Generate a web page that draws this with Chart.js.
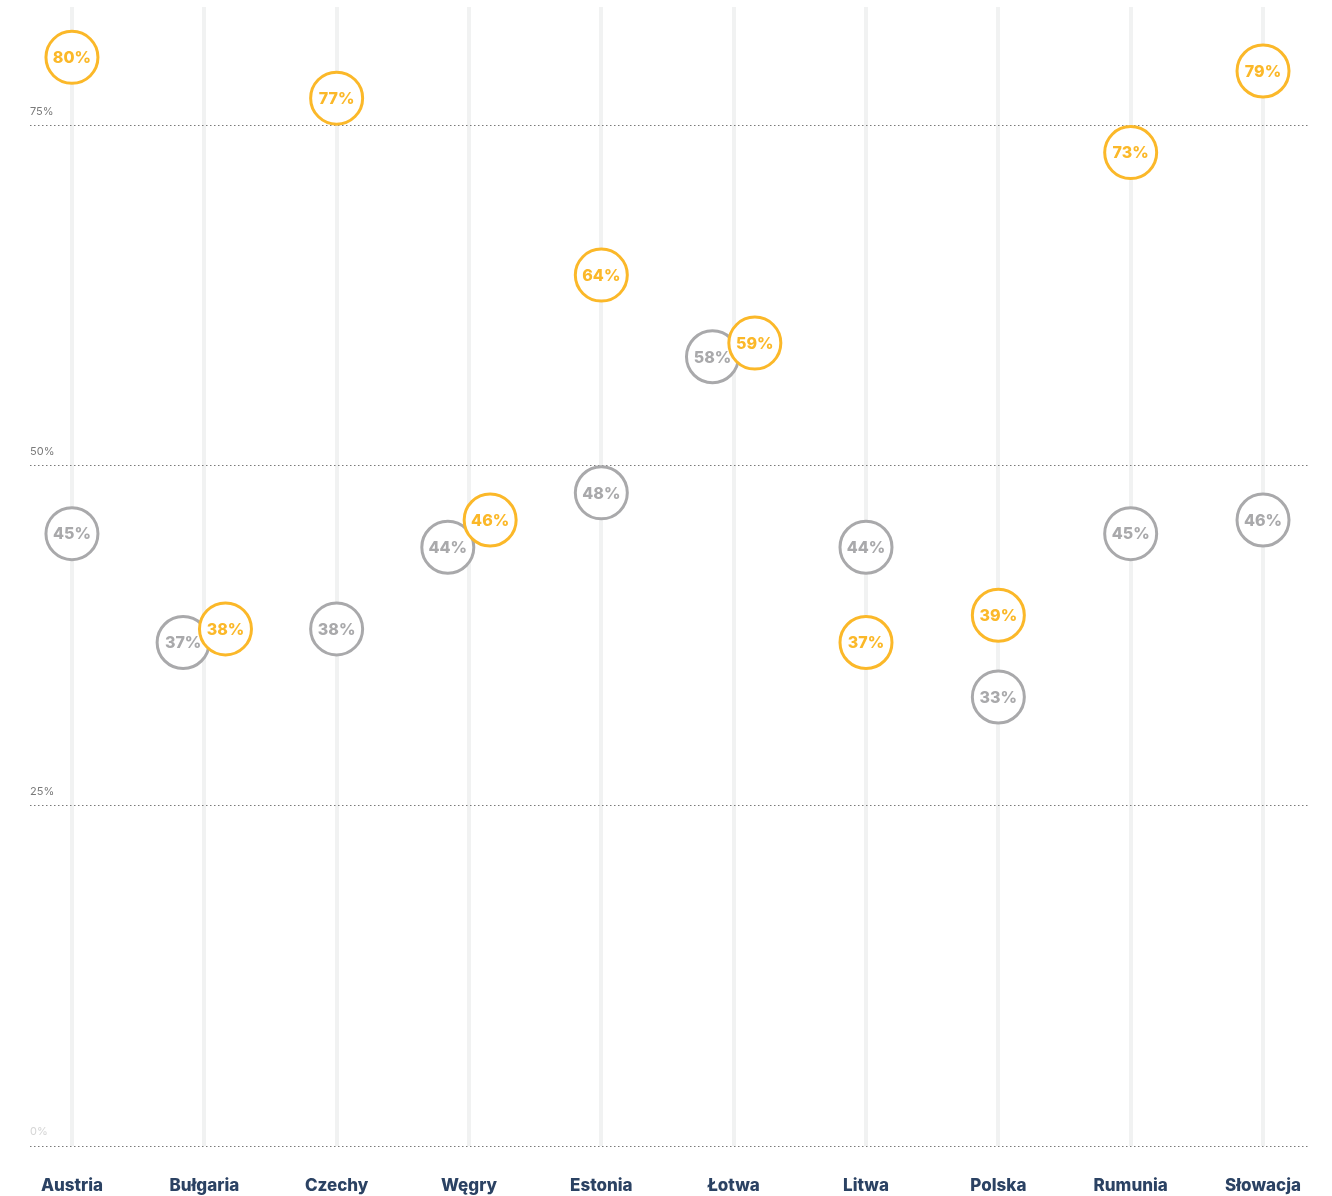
<!DOCTYPE html>
<html lang="pl">
<head>
<meta charset="utf-8">
<script src="https://cdn.jsdelivr.net/npm/chart.js@4/dist/chart.umd.min.js"></script>
<style>
  html, body { margin: 0; padding: 0; background: #fff; }
  #wrap { width: 1332px; height: 1196px; }
</style>
</head>
<body>
<div id="wrap"><canvas id="wykres"></canvas></div>
<script>
const kraje = ['Austria', 'Bułgaria', 'Czechy', 'Węgry', 'Estonia', 'Łotwa', 'Litwa', 'Polska', 'Rumunia', 'Słowacja'];
const wartosciSzare = [45, 37, 38, 44, 48, 58, 44, 33, 45, 46];
const wartosciZolte = [80, 38, 77, 46, 64, 59, 37, 39, 73, 79];
const etykietyOsiY = [0, 25, 50, 75];

const ZOLTY = '#fbb829';
const SZARY = '#a9a9ab';

// gdy kółka by się nakładały, rozsuwamy je w poziomie
function przesuniecie(i, kierunek) {
    return Math.abs(wartosciSzare[i] - wartosciZolte[i]) < 4 ? kierunek * 0.16 : 0;
}

const punktySzare = wartosciSzare.map((v, i) => ({ x: i + przesuniecie(i, -1), y: v }));
const punktyZolte = wartosciZolte.map((v, i) => ({ x: i + przesuniecie(i, 1), y: v }));

const etykietyPunktow = {
    id: 'etykietyPunktow',
    afterDatasetDraw(chart, args) {
        const ds = chart.data.datasets[args.index];
        const ctx = chart.ctx;
        ctx.save();
        ctx.font = '800 16px Inter';
        ctx.fillStyle = ds.pointBorderColor;
        ctx.textAlign = 'center';
        ctx.textBaseline = 'middle';
        args.meta.data.forEach((pt, i) => {
            ctx.fillText(ds.data[i].y + '%', pt.x, pt.y + 1);
        });
        ctx.restore();
    }
};

function zbiorDanych(dane, kolor, kolejnosc) {
    return {
        data: dane,
        showLine: false,
        order: kolejnosc,
        clip: false,
        pointRadius: 26,
        pointHoverRadius: 26,
        pointBorderWidth: 3,
        pointBackgroundColor: '#fff',
        pointBorderColor: kolor,
        borderColor: kolor,
        backgroundColor: '#fff'
    };
}

new Chart(document.getElementById('wykres'), {
    type: 'scatter',
    data: {
        datasets: [
            zbiorDanych(punktyZolte, ZOLTY, 1),
            zbiorDanych(punktySzare, SZARY, 2)
        ]
    },
    plugins: [etykietyPunktow],
    options: {
        responsive: true,
        maintainAspectRatio: false,
        animation: false,
        layout: { autoPadding: false, padding: { left: 30, right: 22, top: 7, bottom: 0 } },
        plugins: {
            legend: { display: false },
            tooltip: { enabled: false }
        },
        scales: {
            x: {
                type: 'linear',
                min: -0.317,
                max: 9.355,
                afterBuildTicks: scale => {
                    scale.ticks = kraje.map((k, i) => ({ value: i }));
                },
                afterFit: scale => { scale.height = 50; },
                grid: { color: '#f1f2f2', lineWidth: 4, drawTicks: false },
                border: { display: false },
                ticks: {
                    padding: 30,
                    maxRotation: 0,
                    autoSkip: false,
                    color: '#2b4263',
                    font: { family: 'Inter', size: 17, weight: '800' },
                    callback: v => kraje[v]
                }
            },
            y: {
                min: 0,
                max: 83.7,
                afterBuildTicks: scale => {
                    scale.ticks = etykietyOsiY.map(v => ({ value: v }));
                },
                grid: { color: '#7a7a7a', lineWidth: 1, drawTicks: false },
                border: { display: false, dash: [1.5, 2.5] },
                ticks: {
                    mirror: true,
                    padding: 0,
                    labelOffset: -14,
                    color: c => c.tick.value === 0 ? '#d5d5d5' : '#7a7a7a',
                    font: { family: 'Inter', size: 11 },
                    callback: v => v + '%'
                }
            }
        }
    }
});
</script>
</body>
</html>
